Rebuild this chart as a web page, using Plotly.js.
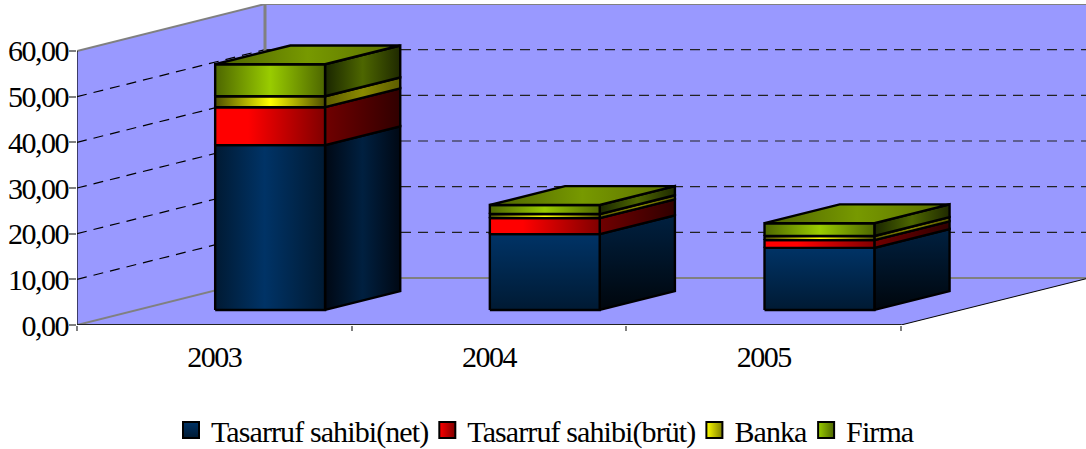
<!DOCTYPE html>
<html>
<head>
<meta charset="utf-8">
<script src="https://cdn.plot.ly/plotly-3.0.1.min.js"></script>
<style>
html,body{margin:0;padding:0;background:#fff}
#chart{width:1086px;height:449px}
.xtick text,.ytick text{letter-spacing:-1.5px}
text.legendtext{letter-spacing:-0.9px}
</style>
</head>
<body>
<div id="chart"></div>
<script>
// Stacked deposit shares per year
const categories = ['2003', '2004', '2005'];
const seriesNames = ['Tasarruf sahibi(net)', 'Tasarruf sahibi(brüt)', 'Banka', 'Firma'];
const net    = [36.1, 16.6, 13.6];
const brut   = [8.3, 3.5, 1.7];
const banka  = [2.4, 0.9, 0.9];
const firma  = [7.0, 2.0, 2.8];
const gridValues = [10, 20, 30, 40, 50, 60];

// Oblique projection: one unit of depth moves a point by these axis amounts
const depthX = 0.6845, depthY = 10.29;
const barLeft = 0.284, barWidth = 0.4, depthFront = 0.32, depthBack = 0.72;
const proj = (cx, v, d) => [cx + d * depthX, v + d * depthY];

const WALL = '#9999ff', EDGE = '#000000', GREY = '#808080';
const traces = [];

function poly(points, opts) {
  const closed = points.concat([points[0]]);
  const t = {
    type: 'scatter', mode: 'lines', showlegend: false, hoverinfo: 'skip', cliponaxis: false,
    x: closed.map(p => p[0]), y: closed.map(p => p[1]), fill: 'toself',
    line: {color: opts.line || EDGE, width: opts.width === undefined ? 2.4 : opts.width}
  };
  if (opts.fill) t.fillcolor = opts.fill;
  if (opts.grad) t.fillgradient = {type: opts.dir || 'horizontal', colorscale: opts.grad};
  traces.push(t);
}
function segment(a, b, color, width, dash) {
  traces.push({
    type: 'scatter', mode: 'lines', showlegend: false, hoverinfo: 'skip', cliponaxis: false,
    x: [a[0], b[0]], y: [a[1], b[1]],
    line: {color: color, width: width, dash: dash || 'solid'}
  });
}

// Walls and floor of the box
const nCat = categories.length, ceiling = gridValues[gridValues.length - 1];
poly([proj(0,0,0), proj(0,0,1), proj(0,ceiling,1), proj(0,ceiling,0)], {fill: WALL, width: 0, line: WALL});
poly([proj(0,0,1), proj(nCat,0,1), proj(nCat,ceiling,1), proj(0,ceiling,1)], {fill: WALL, width: 0, line: WALL});
poly([proj(0,0,0), proj(nCat,0,0), proj(nCat,0,1), proj(0,0,1)], {fill: WALL, width: 0, line: WALL});

// Dashed gridlines run along the side wall, then the back wall
gridValues.slice(0, -1).forEach(v => {
  segment(proj(0,v,0), proj(0,v,1), '#000', 1.2, '10px,7px');
  segment(proj(0,v,1), proj(nCat,v,1), '#222', 1.2, '10px,7px');
});

// Box edges
segment(proj(0,0,0), proj(0,0,1), GREY, 2);
segment(proj(0,0,1), proj(nCat,0,1), GREY, 2);
segment(proj(0,ceiling,0), proj(0,ceiling,1), GREY, 2);
segment(proj(0,ceiling,1), proj(nCat,ceiling,1), GREY, 2);
segment(proj(0,0,1), proj(0,ceiling,1), GREY, 3);
segment(proj(nCat,0,0), proj(nCat,0,1), '#000', 1);
segment(proj(0,-1.1,0), proj(0,ceiling,0), '#000', 1.2);
segment(proj(0,0,0), proj(nCat,0,0), '#222', 2);

// Face gradients for each series
const faces = {
  netFrontH: {grad: [[0,'#001a33'],[0.45,'#003366'],[1,'#001a33']]},
  netSideH:  {grad: [[0,'#000814'],[0.5,'#002040'],[1,'#000814']]},
  netFrontV: {dir: 'vertical', grad: [[0,'#001a33'],[1,'#003366']]},
  netSideV:  {dir: 'vertical', grad: [[0,'#00060c'],[1,'#002040']]},
  redFront:  {grad: [[0,'#ff0000'],[0.3,'#ff0000'],[1,'#800000']]},
  redSide:   {grad: [[0,'#700000'],[1,'#300000']]},
  yelFront:  {grad: [[0,'#4d4d00'],[0.5,'#ffff00'],[1,'#4d4d00']]},
  yelSide:   {grad: [[0,'#5c5c00'],[0.5,'#8a8a00'],[1,'#5c5c00']]},
  greFront:  {grad: [[0,'#4d6600'],[0.5,'#99cc00'],[1,'#4d6600']]},
  greSide:   {grad: [[0,'#1a2600'],[0.5,'#4d6600'],[1,'#1f2900']]},
  greTop:    {grad: [[0,'#4d6200'],[0.5,'#779900'],[1,'#5a6e00']]}
};

// Stacked bars: front and side face per segment, one top face per bar
categories.forEach((c, i) => {
  const left = i + barLeft, right = left + barWidth;
  const stack = [net[i], brut[i], banka[i], firma[i]];
  const style = [
    i === 0 ? [faces.netFrontH, faces.netSideH] : [faces.netFrontV, faces.netSideV],
    [faces.redFront, faces.redSide],
    [faces.yelFront, faces.yelSide],
    [faces.greFront, faces.greSide]
  ];
  let base = 0;
  stack.forEach((value, s) => {
    const top = base + value;
    poly([proj(right,base,depthFront), proj(right,base,depthBack), proj(right,top,depthBack), proj(right,top,depthFront)], style[s][1]);
    poly([proj(left,base,depthFront), proj(right,base,depthFront), proj(right,top,depthFront), proj(left,top,depthFront)], style[s][0]);
    base = top;
  });
  poly([proj(left,base,depthFront), proj(right,base,depthFront), proj(right,base,depthBack), proj(left,base,depthBack)], faces.greTop);
});

// Legend entries
const legendMarkers = [
  {color: '#003366', gradient: {type: 'vertical', color: '#001a33'}},
  {color: '#ff0000', gradient: {type: 'horizontal', color: '#800000'}},
  {color: '#ffff00', gradient: {type: 'horizontal', color: '#808000'}},
  {color: '#99cc00', gradient: {type: 'horizontal', color: '#4d6600'}}
];
seriesNames.forEach((name, s) => {
  traces.push({
    type: 'scatter', mode: 'markers', name: name, x: [null], y: [null], hoverinfo: 'skip',
    marker: Object.assign({symbol: 'square', size: 16, line: {color: '#000', width: 2}}, legendMarkers[s])
  });
});

const font = {family: '"Liberation Serif", "Times New Roman", serif', size: 30, color: '#000'};
const layout = {
  width: 1086, height: 449,
  margin: {l: 77, r: 0, t: 4, b: 124, pad: 0},
  paper_bgcolor: '#fff', plot_bgcolor: '#fff',
  separators: ',.',
  font: font,
  showlegend: true,
  legend: {
    orientation: 'h', xref: 'container', yref: 'container',
    x: 177 / 1086, xanchor: 'left', y: 1 - 404 / 449, yanchor: 'top', indentation: -6,
    traceorder: 'normal', font: font, bgcolor: 'rgba(0,0,0,0)', borderwidth: 0
  },
  xaxis: {
    range: [0, 3.6735], showgrid: false, zeroline: false, showline: false,
    tickmode: 'array', tickvals: categories.map((c, i) => i + 0.5), ticktext: categories,
    ticks: '', ticklabelstandoff: 11, tickfont: font,
    minor: {tickmode: 'array', tickvals: categories.map((c, i) => i).concat([nCat]), ticks: 'outside', ticklen: 5, tickcolor: GREY, tickwidth: 2, showgrid: false}
  },
  yaxis: {
    range: [0, ceiling + depthY], showgrid: false, zeroline: false, showline: false,
    tickmode: 'array', tickvals: [0].concat(gridValues), tickformat: '.2f',
    ticks: 'outside', ticklen: 7, tickcolor: GREY, tickwidth: 2, tickfont: font, ticklabelstandoff: -5
  }
};
Plotly.newPlot('chart', traces, layout, {staticPlot: true, displayModeBar: false});
</script>
</body>
</html>
